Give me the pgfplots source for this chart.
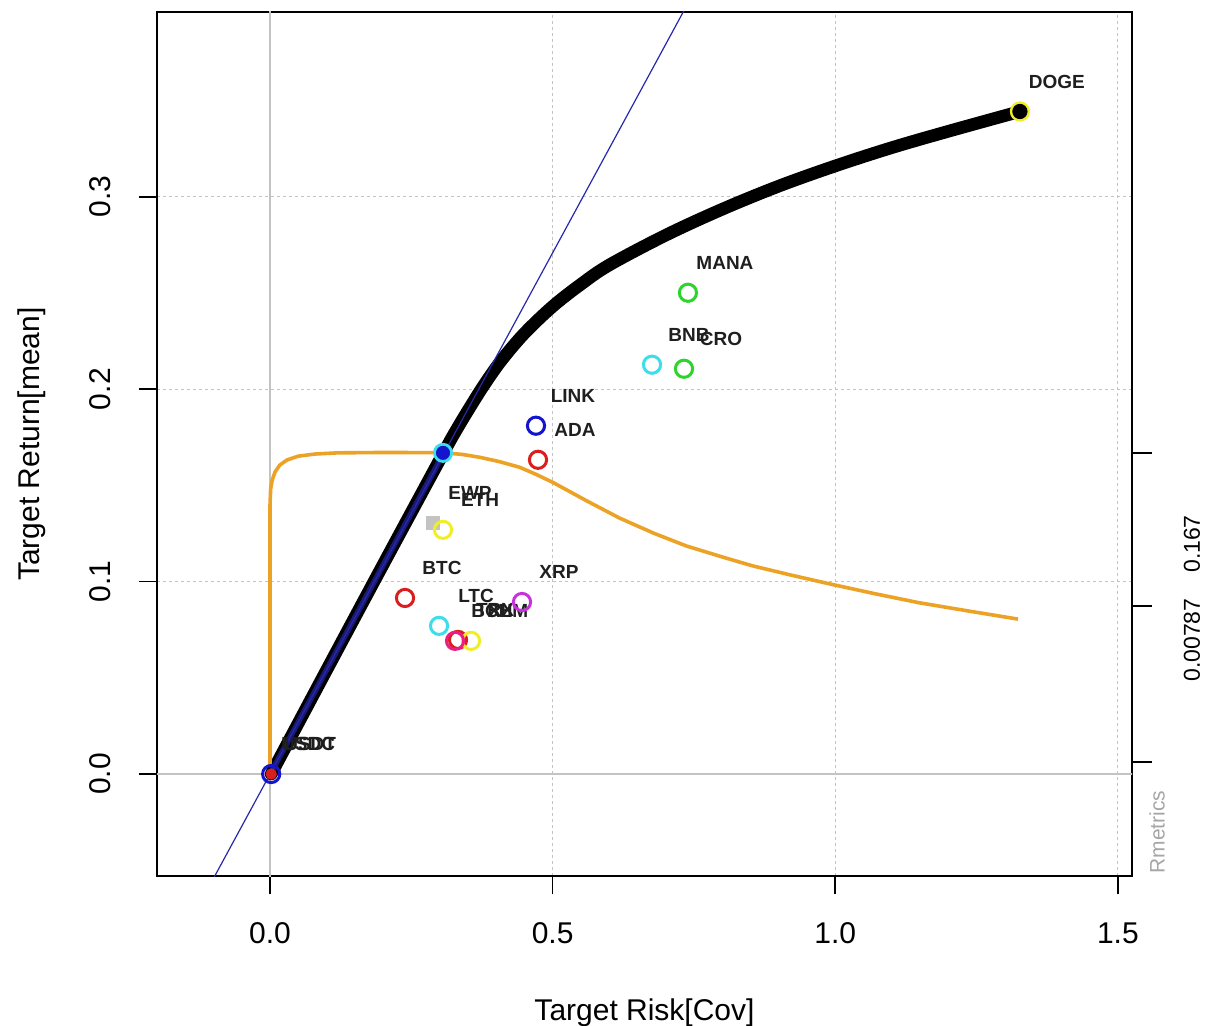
\documentclass[border=0pt]{standalone}
\usepackage{fontspec}
\setmainfont{Liberation Sans}
\usepackage{pgfplots}
\pgfplotsset{compat=1.18}
\definecolor{cRed}{RGB}{218,30,30}
\definecolor{cCyan}{RGB}{60,222,235}
\definecolor{cYellow}{RGB}{240,238,40}
\definecolor{cBlue}{RGB}{20,20,205}
\definecolor{cGreen}{RGB}{45,212,45}
\definecolor{cMag}{RGB}{200,50,220}
\definecolor{cPink}{RGB}{235,30,130}
\definecolor{cOrange}{RGB}{236,162,36}
\definecolor{cNavy}{RGB}{25,25,120}
\definecolor{cLine}{RGB}{40,40,170}
\definecolor{cGrid}{RGB}{195,195,195}
\pgfplotsset{
  asset/.style={only marks, mark=o, mark size=4.3pt, color=#1,
    mark options={line width=1.5pt, draw=#1},
    nodes near coords, point meta=explicit symbolic,
    every node near coord/.append style={anchor=center, xshift=18.5pt, yshift=15pt,
      font=\bfseries\fontsize{9.5}{11}\selectfont, text=black!88, inner sep=0pt}},
}
\begin{document}
\begin{tikzpicture}
\useasboundingbox (-78.5pt,-74.5pt) rectangle (524pt,438pt);
\begin{axis}[
  at={(0,0)}, anchor=south west, scale only axis,
  width=487.5pt, height=432pt,
  xmin=-0.2, xmax=1.525, ymin=-0.053, ymax=0.396,
  axis line style={line width=0.8pt},
  xtick={0,0.5,1,1.5}, xticklabels={0.0,0.5,1.0,1.5},
  ytick={0,0.1,0.2,0.3}, yticklabels={0.0,0.1,0.2,0.3},
  xtick pos=bottom, ytick pos=left,
  tick align=outside, major tick length=9pt,
  tick style={black, line width=0.8pt},
  tick label style={font=\fontsize{15}{18}\selectfont},
  xticklabel style={anchor=north, inner sep=0pt, yshift=-14pt},
  yticklabel style={xshift=-14pt, rotate=90, anchor=south, inner sep=0pt},
  grid=major,
  major grid style={cGrid, line width=0.6pt, dash pattern=on 1.5pt off 1.5pt},
]
% zero lines
\addplot[cGrid, line width=0.8pt] coordinates {(0,-0.1) (0,0.5)};
\addplot[cGrid, line width=0.8pt] coordinates {(-0.5,0) (2,0)};
% efficient frontier
\addplot[black, line width=6.3pt, line cap=round, smooth, tension=0.55] coordinates {
 (0.002,0.0) (0.10,0.0540) (0.20,0.1088) (0.306,0.1664) (0.33,0.1790) (0.355,0.1912)
 (0.38,0.2028) (0.41,0.2152) (0.45,0.2290) (0.50,0.2430) (0.55,0.2545) (0.60,0.2645)
 (0.70,0.2800) (0.80,0.2935) (0.90,0.3055) (1.00,0.3160) (1.10,0.3255) (1.20,0.3340)
 (1.3267,0.3443)};
\addplot[cNavy, line width=2.8pt] coordinates {(0.004,0.002) (0.304,0.1650)};
% tangent line
\addplot[cLine, line width=0.6pt] coordinates {(-0.2,-0.1084) (0.8,0.4334)};
% tangency portfolio
\addplot[only marks, mark=*, mark size=4.3pt, mark options={fill=cBlue, draw=cCyan, line width=1.4pt}] coordinates {(0.306,0.1669)};
% sharpe ratio curve
\addplot[cOrange, line width=1.8pt, line join=round] coordinates {
 (0,0.004) (0,0.1400) (0.001,0.1480) (0.004,0.1530) (0.009,0.1570) (0.017,0.1605)
 (0.030,0.1632) (0.050,0.1652) (0.080,0.1663) (0.120,0.1669) (0.20,0.1671)
 (0.3039,0.1670) (0.340,0.1661) (0.3710,0.1646) (0.405,0.1624) (0.4417,0.1594)
 (0.47,0.1558) (0.50,0.1516) (0.56,0.1420) (0.6184,0.1330) (0.68,0.1250)
 (0.7367,0.1185) (0.80,0.1128) (0.8534,0.1082) (0.92,0.1035) (0.9947,0.0985)
 (1.07,0.0937) (1.1484,0.0890) (1.24,0.0845) (1.3233,0.0805)};
% equal weights portfolio
\addplot[only marks, mark=square*, mark size=3.2pt, color=cGrid, nodes near coords, point meta=explicit symbolic,
  every node near coord/.append style={anchor=center, xshift=18.5pt, yshift=15pt,
      font=\bfseries\fontsize{9.5}{11}\selectfont, text=black!88, inner sep=0pt}]
  table[meta=label, row sep=\\] {x y label\\ 0.2883 0.1305 EWP\\};
% single assets
\addplot[asset=cRed] table[meta=label, row sep=\\] {x y label\\
 0.4741 0.1633 ADA\\ 0.2388 0.0915 BTC\\ 0.3326 0.0697 TRX\\};
\addplot[asset=cCyan] table[meta=label, row sep=\\] {x y label\\
 0.6758 0.2127 BNB\\ 0.2990 0.0770 LTC\\};
\addplot[asset=cYellow] table[meta=label, row sep=\\] {x y label\\
 1.3267 0.3443 DOGE\\ 0.3060 0.1269 ETH\\ 0.3556 0.0692 XLM\\};
\addplot[asset=cBlue] table[meta=label, row sep=\\] {x y label\\
 0.4705 0.1810 LINK\\ 0.0020 0.0000 USDC\\};
\addplot[asset=cGreen] table[meta=label, row sep=\\] {x y label\\
 0.7394 0.2501 MANA\\ 0.7324 0.2106 CRO\\};
\addplot[asset=cMag] table[meta=label, row sep=\\] {x y label\\
 0.4458 0.0894 XRP\\};
\addplot[asset=cPink] table[meta=label, row sep=\\] {x y label\\
 0.3273 0.0692 BCH\\};
\addplot[only marks, mark=*, mark size=2.6pt, color=cRed, nodes near coords, point meta=explicit symbolic,
  every node near coord/.append style={anchor=center, xshift=19.5pt, yshift=15pt,
      font=\bfseries\fontsize{9.5}{11}\selectfont, text=black!88, inner sep=0pt}]
  table[meta=label, row sep=\\] {x y label\\ 0.0020 0.0000 USDT\\};
% end of frontier
\addplot[only marks, mark=*, mark size=3.6pt, color=black] coordinates {(1.3267,0.3443)};
\end{axis}
% right side axis
\begin{axis}[
  at={(0,0)}, anchor=south west, scale only axis,
  width=487.5pt, height=432pt,
  xmin=-0.2, xmax=1.525, ymin=-0.053, ymax=0.396,
  axis x line=none, axis y line*=right, axis line style={draw=none},
  ytick={0.00624,0.0874,0.1669}, yticklabels={},
  tick align=outside, major tick length=10pt,
  tick style={black, line width=0.8pt},
]
\addplot[draw=none] coordinates {(0,0)};
\end{axis}
\node[rotate=90, font=\fontsize{11.5}{13}\selectfont] at (517.5pt,166pt) {0.167};
\node[rotate=90, font=\fontsize{11.5}{13}\selectfont] at (517.5pt,118pt) {0.00787};
\node[rotate=90, text=black!35, font=\fontsize{10.5}{12}\selectfont] at (500pt,22pt) {Rmetrics};
\node[anchor=base, font=\fontsize{15}{18}\selectfont] at (243.75pt,-72pt) {Target Risk[Cov]};
\node[rotate=90, anchor=base, font=\fontsize{15}{18}\selectfont] at (-58.5pt,216pt) {Target Return[mean]};
\end{tikzpicture}
\end{document}
